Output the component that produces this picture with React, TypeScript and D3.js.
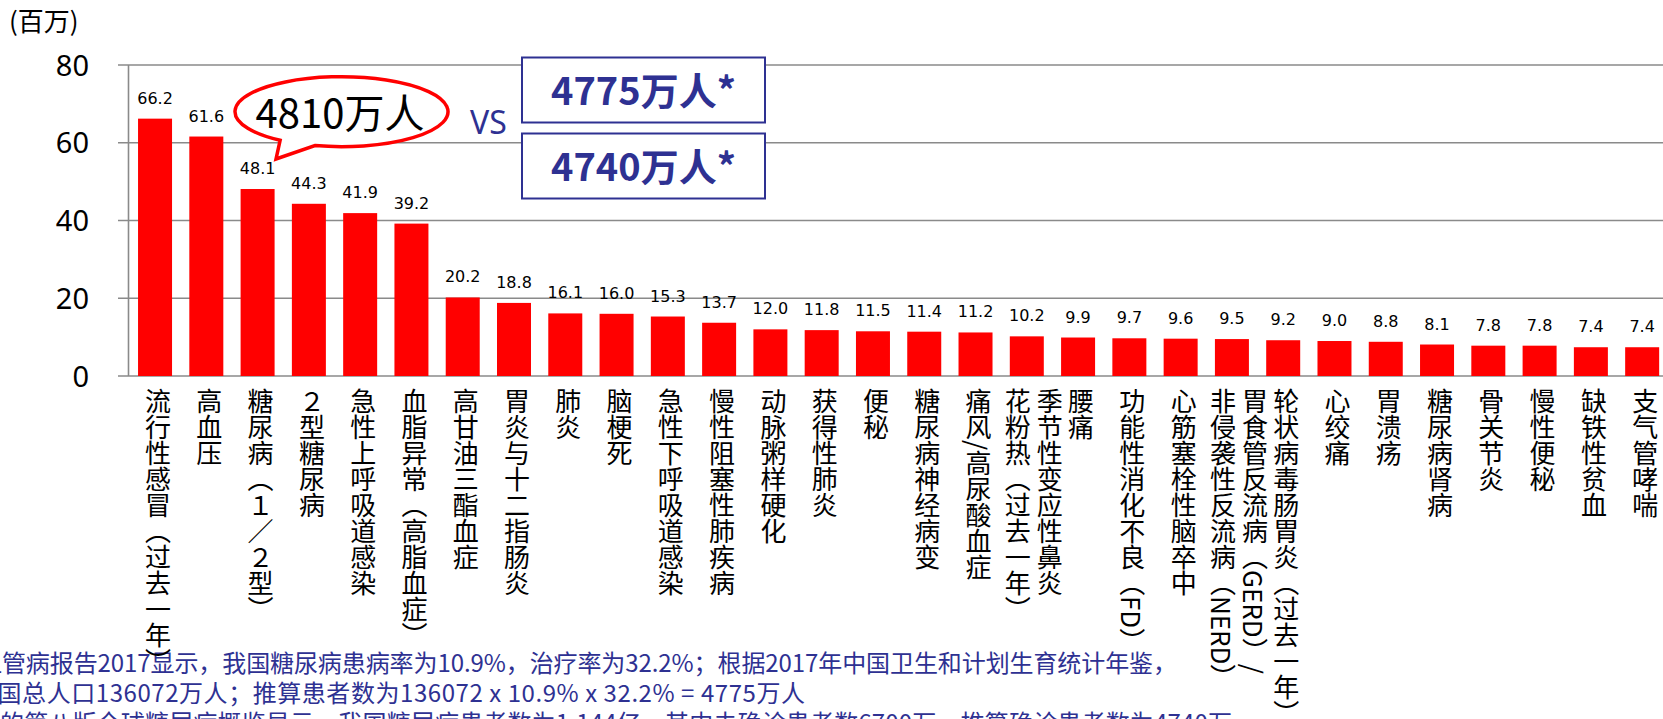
import React from "react";
import * as d3 from "d3";

const categories: string[] = [
  "流行性感冒（过去一年）",
  "高血压",
  "糖尿病（１／２型）",
  "２型糖尿病",
  "急性上呼吸道感染",
  "血脂异常（高脂血症）",
  "高甘油三酯血症",
  "胃炎与十二指肠炎",
  "肺炎",
  "脑梗死",
  "急性下呼吸道感染",
  "慢性阻塞性肺疾病",
  "动脉粥样硬化",
  "获得性肺炎",
  "便秘",
  "糖尿病神经病变",
  "痛风/高尿酸血症",
  "季节性变应性鼻炎\n花粉热（过去一年）",
  "腰痛",
  "功能性消化不良（FD）",
  "心筋塞栓性脑卒中",
  "胃食管反流病（GERD）/\n非侵袭性反流病（NERD）",
  "轮状病毒肠胃炎（过去一年）",
  "心绞痛",
  "胃溃疡",
  "糖尿病肾病",
  "骨关节炎",
  "慢性便秘",
  "缺铁性贫血",
  "支气管哮喘",
];

const values: number[] = [
  66.2, 61.6, 48.1, 44.3, 41.9, 39.2, 20.2, 18.8, 16.1, 16.0, 15.3, 13.7, 12.0,
  11.8, 11.5, 11.4, 11.2, 10.2, 9.9, 9.7, 9.6, 9.5, 9.2, 9.0, 8.8, 8.1, 7.8, 7.8,
  7.4, 7.4,
];

const yTicks: number[] = [0, 20, 40, 60, 80];

const unitLabel = "(百万)";
const calloutText = "4810万人";
const vsText = "VS";
const boxTexts: string[] = ["4775万人*", "4740万人*"];

const footnotes: string[] = [
  "血管病报告2017显示，我国糖尿病患病率为10.9%，治疗率为32.2%；根据2017年中国卫生和计划生育统计年鉴，",
  "我国总人口136072万人；推算患者数为136072 x 10.9% x 32.2% = 4775万人",
  "的第八版全球糖尿病概览显示，我国糖尿病患者数为1.144亿，其中未确诊患者数6700万，推算确诊患者数为4740万",
];

const W = 1663;
const H = 719;
const BLUE = "#2E3192";
const GRID = "#8a8a8a";
const CJK = "'Noto Sans CJK SC', 'Noto Sans', sans-serif";

export default function App() {
  const x = d3
    .scaleBand<number>()
    .domain(d3.range(values.length))
    .range([129.4, 1667.8])
    .paddingInner(0.337)
    .paddingOuter(0.1685);
  const y = d3.scaleLinear().domain([0, 80]).range([376, 65]);

  const axisX = 128.5;
  const tickLeft = 118;

  // callout geometry
  const cx = 341.5,
    cy = 111.7,
    rx = 106.5,
    ry = 35;
  const aT = (125.2 * Math.PI) / 180;
  const bT = (104.4 * Math.PI) / 180;
  const A = [cx + rx * Math.cos(aT), cy + ry * Math.sin(aT)];
  const B = [cx + rx * Math.cos(bT), cy + ry * Math.sin(bT)];
  const tip = [276, 159];
  const calloutPath = `M${A[0]},${A[1]} L${tip[0]},${tip[1]} L${B[0]},${B[1]} A${rx},${ry} 0 1 0 ${A[0]},${A[1]} Z`;

  const footLayout = [
    { x: -22, y: 672, len: 1199 },
    { x: -27, y: 702, len: 832 },
    { x: 0, y: 732, len: 1232 },
  ];

  return (
    <svg
      width={W}
      height={H}
      style={{ position: "absolute", left: 0, top: 0, background: "#fff" }}
    >
      <rect x={0} y={0} width={W} height={H} fill="#fff" />
      {/* gridlines */}
      {yTicks.map((t) => (
        <line
          key={"g" + t}
          x1={tickLeft}
          x2={W}
          y1={y(t)}
          y2={y(t)}
          stroke={GRID}
          strokeWidth={1.6}
        />
      ))}
      <line
        x1={axisX}
        x2={axisX}
        y1={y(80)}
        y2={y(0)}
        stroke={GRID}
        strokeWidth={1.6}
      />
      {/* y tick labels */}
      {yTicks.map((t) => (
        <text
          key={"t" + t}
          x={89}
          y={y(t) + 10.5}
          textAnchor="end"
          fontFamily="'Noto Sans', sans-serif"
          fontSize={29}
          fill="#000"
        >
          {t}
        </text>
      ))}
      <text x={9} y={31} fontFamily={CJK} fontSize={26} fill="#000">
        {unitLabel}
      </text>
      {/* bars */}
      {values.map((v, i) => (
        <rect
          key={"b" + i}
          x={x(i)}
          y={y(v)}
          width={x.bandwidth()}
          height={y(0) - y(v)}
          fill="#FF0000"
        />
      ))}
      {/* value labels */}
      {values.map((v, i) => (
        <text
          key={"v" + i}
          x={(x(i) as number) + x.bandwidth() / 2}
          y={y(v) - 15}
          textAnchor="middle"
          fontFamily="'DejaVu Sans', Verdana, sans-serif"
          fontSize={16}
          fill="#000"
        >
          {v.toFixed(1)}
        </text>
      ))}
      {/* footnotes (behind labels) */}
      {footnotes.map((f, k) => (
        <text
          key={"f" + k}
          x={footLayout[k].x}
          y={footLayout[k].y}
          textLength={footLayout[k].len}
          lengthAdjust="spacing"
          fontFamily={CJK}
          fontSize={24}
          fill={BLUE}
        >
          {f}
        </text>
      ))}
      {/* category labels (vertical) */}
      {categories.map((c, i) => {
        const lines = c.split("\n");
        const n = lines.length;
        const center = (x(i) as number) + x.bandwidth() / 2 + (n > 1 ? 7 : 3);
        return lines.map((ln, j) => (
          <text
            key={"c" + i + "-" + j}
            x={center + ((n - 1) / 2 - j) * 32}
            y={388}
            fontFamily={CJK}
            fontSize={26}
            fill="#000"
            style={{ writingMode: "vertical-rl" as any }}
          >
            {ln}
          </text>
        ));
      })}
      {/* callout */}
      <path d={calloutPath} fill="#fff" stroke="#FF0000" strokeWidth={3.5} />
      <text
        x={340}
        y={128}
        textAnchor="middle"
        fontFamily={CJK}
        fontSize={40}
        fill="#000"
      >
        {calloutText}
      </text>
      <text x={470} y={134} fontFamily="'Noto Sans', sans-serif" fontSize={32} fill={BLUE}>
        {vsText}
      </text>
      {/* boxes */}
      {boxTexts.map((t, k) => {
        const top = k === 0 ? 57.5 : 133.5;
        return (
          <g key={"box" + k}>
            <rect
              x={522}
              y={top}
              width={243}
              height={65}
              fill="#fff"
              stroke={BLUE}
              strokeWidth={2}
            />
            <text
              x={643.5}
              y={top + 47.5}
              textAnchor="middle"
              fontFamily={CJK}
              fontWeight={700}
              fontSize={38}
              fill={BLUE}
            >
              {t}
            </text>
          </g>
        );
      })}
    </svg>
  );
}
